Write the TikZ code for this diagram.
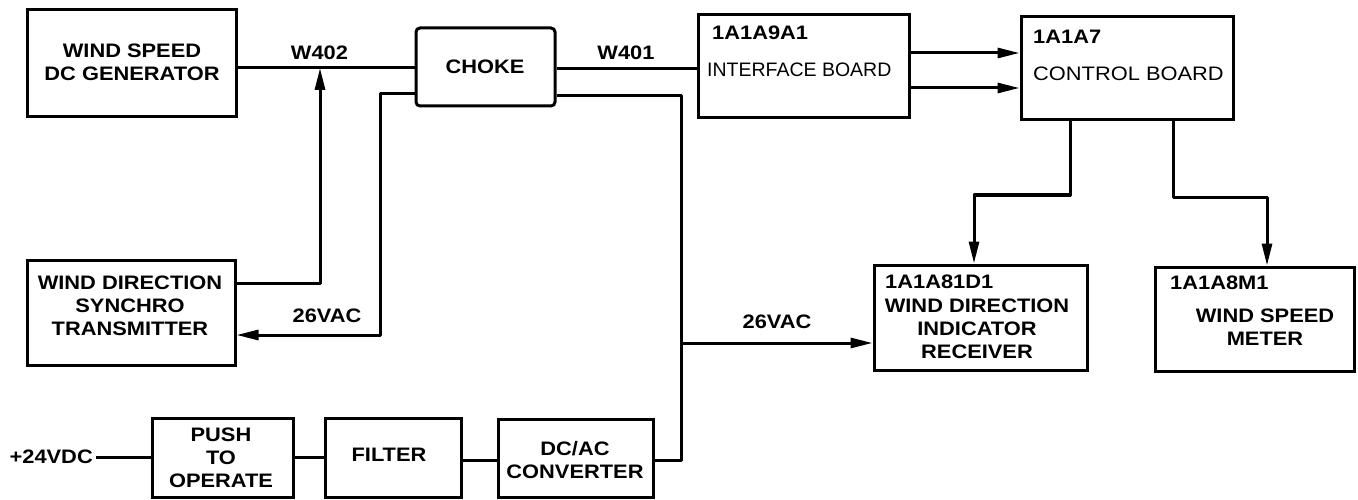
\documentclass[tikz,border=0pt]{standalone}
\usepackage{fontspec}
\setmainfont{Liberation Sans}[FakeStretch=1.12]
\newfontfamily\plainfont{Liberation Sans}
\usetikzlibrary{arrows.meta}
\begin{document}
\begin{tikzpicture}[x=1pt,y=-1pt,
  box/.style={draw,line width=3pt,inner sep=0pt},
  wire/.style={line width=3pt,line join=round},
  arr/.style={-{Triangle[length=22pt,width=10pt]}},
  txt/.style={inner sep=0pt,font=\fontsize{19.5}{23}\selectfont\bfseries,align=center},
  ltxt/.style={inner sep=0pt,font=\fontsize{19.5}{23}\selectfont,align=left}]
\useasboundingbox (0,0) rectangle (1358,500);
% boxes
\node[box,minimum width=209pt,minimum height=107pt] (gen) at (131.5,63.5) {};
\node[box,rounded corners=4pt,minimum width=139pt,minimum height=78pt] (choke) at (485.5,67) {};
\node[box,minimum width=211pt,minimum height=103pt] (iface) at (803.5,66.5) {};
\node[box,minimum width=212pt,minimum height=103pt] (ctrl) at (1127,68.5) {};
\node[box,minimum width=208pt,minimum height=105pt] (synchro) at (131,312.5) {};
\node[box,minimum width=213pt,minimum height=105pt] (recv) at (980.5,317.5) {};
\node[box,minimum width=199pt,minimum height=104pt] (meter) at (1254.5,319) {};
\node[box,minimum width=141pt,minimum height=79pt] (push) at (222.5,457.5) {};
\node[box,minimum width=136pt,minimum height=79pt] (filter) at (393,457.5) {};
\node[box,minimum width=155pt,minimum height=78pt] (conv) at (575.5,458) {};
% texts
\node[txt] (tgen) at (132,62) {WIND SPEED\\DC GENERATOR};
\node[txt] (tchoke) at (485,67) {CHOKE};
\node[ltxt,anchor=west] (tif1) at (712,33) {\bfseries 1A1A9A1};
\node[ltxt,anchor=west,font=\fontsize{19.5}{23}\plainfont] (tif2) at (707,70) {INTERFACE BOARD};
\node[ltxt,anchor=west] (tct1) at (1033,37) {\bfseries 1A1A7};
\node[ltxt,anchor=west] (tct2) at (1033,74) {CONTROL BOARD};
\node[txt] (tsyn) at (130,306) {WIND DIRECTION\\SYNCHRO\\TRANSMITTER};
\node[txt,anchor=west] (trc1) at (885,282) {1A1A81D1};
\node[txt] (trc2) at (977,329) {WIND DIRECTION\\INDICATOR\\RECEIVER};
\node[txt,anchor=west] (tmt1) at (1170,283) {1A1A8M1};
\node[txt] (tmt2) at (1265,327.5) {WIND SPEED\\METER};
\node[txt] (tpush) at (221,457.5) {PUSH\\TO\\OPERATE};
\node[txt] (tfilter) at (389,455) {FILTER};
\node[txt] (tconv) at (575,460.5) {DC/AC\\CONVERTER};
% labels
\node[txt] (w402) at (319.5,53) {W402};
\node[txt] (w401) at (626,53) {W401};
\node[txt] (vac1) at (327,316) {26VAC};
\node[txt] (vac2) at (777,322) {26VAC};
\node[txt,anchor=east] (vin) at (93,457) {+24VDC};
% coordinates
\coordinate (j1) at (320,68);
\coordinate (j2) at (320,283);
\coordinate (j3) at (380,94);
\coordinate (j4) at (380,335);
\coordinate (j5) at (681,96);
\coordinate (j6) at (681,343);
\coordinate (j7) at (681,460);
\coordinate (w1) at (600,69);
\coordinate (a1) at (950,53);
\coordinate (a2) at (950,88);
\coordinate (cA) at (1070,195);
\coordinate (cB) at (974,195);
\coordinate (cC) at (1173,197);
\coordinate (cD) at (1267,197);
\coordinate (p1) at (300,457);
\coordinate (p2) at (480,460);
% connectors
\draw[wire] (gen.east |- j1) -- (choke.west |- j1);
\draw[wire,arr] (synchro.east |- j2) -- (j2) -- (j1);
\draw[wire,arr] (choke.west |- j3) -- (j3) -- (j4) -- (synchro.east |- j4);
\draw[wire] (choke.east |- w1) -- (iface.west |- w1);
\draw[wire] (choke.east |- j5) -- (j5) -- (j7) -- (conv.east |- j7);
\draw[wire,arr] (j6) -- (recv.west |- j6);
\draw[wire,arr] (iface.east |- a1) -- (ctrl.west |- a1);
\draw[wire,arr] (iface.east |- a2) -- (ctrl.west |- a2);
\draw[wire,arr] (ctrl.south -| cA) -- (cA) -- (cB) -- (recv.north -| cB);
\draw[wire,arr] (ctrl.south -| cC) -- (cC) -- (cD) -- (meter.north -| cD);
\draw[wire] (vin.east) ++(3,0) -- (push.west |- p1);
\draw[wire] (push.east |- p1) -- (filter.west |- p1);
\draw[wire] (filter.east |- p2) -- (conv.west |- p2);
\end{tikzpicture}
\end{document}
